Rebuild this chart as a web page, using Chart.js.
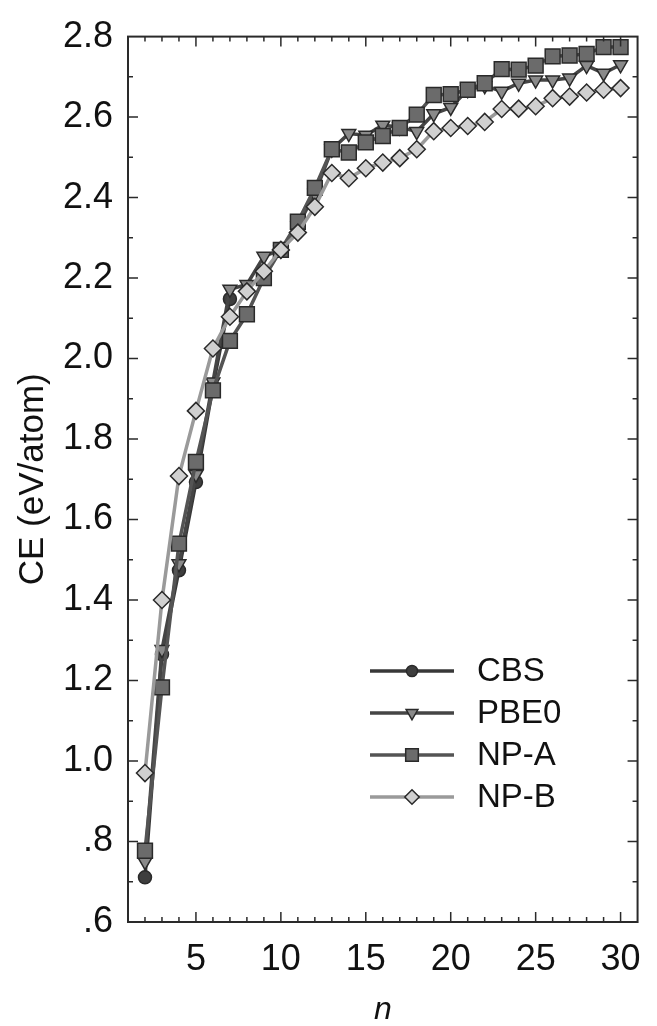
<!DOCTYPE html>
<html>
<head>
<meta charset="utf-8">
<title>CE vs n</title>
<script src="https://cdn.jsdelivr.net/npm/chart.js@4.4.1/dist/chart.umd.min.js"></script>
<style>
  html, body { margin: 0; padding: 0; background: #fff; }
  #wrap { width: 657px; height: 1026px; }
</style>
</head>
<body>
<div id="wrap"><canvas id="chart" width="657" height="1026"></canvas></div>
<script>
// cluster sizes
const cbsN = [2, 3, 4, 5, 6, 7];
const fullN = [2, 3, 4, 5, 6, 7, 8, 9, 10, 11, 12, 13, 14, 15, 16, 17, 18, 19, 20, 21, 22, 23, 24, 25, 26, 27, 28, 29, 30];

// cohesive energies, eV/atom
const cbsCE = [0.711, 1.265, 1.474, 1.693, 1.93, 2.148];
const pbe0CE = [0.75, 1.277, 1.49, 1.712, 1.942, 2.172, 2.184, 2.254, 2.27, 2.33, 2.41, 2.52, 2.559, 2.555, 2.58, 2.575, 2.564, 2.608, 2.624, 2.668, 2.678, 2.664, 2.684, 2.692, 2.692, 2.697, 2.728, 2.709, 2.73];
const npaCE = [0.777, 1.183, 1.54, 1.743, 1.921, 2.044, 2.11, 2.2, 2.27, 2.34, 2.424, 2.52, 2.512, 2.537, 2.553, 2.573, 2.606, 2.655, 2.657, 2.668, 2.684, 2.719, 2.718, 2.728, 2.751, 2.753, 2.757, 2.774, 2.774];
const npbCE = [0.97, 1.4, 1.708, 1.87, 2.025, 2.104, 2.167, 2.217, 2.27, 2.313, 2.377, 2.461, 2.448, 2.473, 2.487, 2.498, 2.52, 2.565, 2.573, 2.578, 2.588, 2.62, 2.621, 2.627, 2.647, 2.651, 2.661, 2.668, 2.672];

const xTicks = [5, 10, 15, 20, 25, 30];
const yTicks = [0.6, 0.8, 1.0, 1.2, 1.4, 1.6, 1.8, 2.0, 2.2, 2.4, 2.6, 2.8];

const font = "'Liberation Sans', Arial, sans-serif";
const ink = "#111";
const frameColor = "#2a2a2a";

function points(xs, ys) {
  return xs.map((n, i) => ({ x: n, y: ys[i] }));
}

function series(label, xs, ys, style) {
  return {
    label,
    data: points(xs, ys),
    borderColor: style.line,
    borderWidth: 3.5,
    pointStyle: style.shape,
    pointRotation: style.rotation || 0,
    pointRadius: style.radius,
    pointBackgroundColor: style.fill,
    pointBorderColor: "#2a2a2a",
    pointBorderWidth: 1.5,
    tension: 0,
    order: style.order,
  };
}

const datasets = [
  series("CBS", cbsN, cbsCE, { line: "#383838", fill: "#3e3e3e", shape: "circle", radius: 6.5, order: 4 }),
  series("PBE0", fullN, pbe0CE, { line: "#454545", fill: "#8a8a8a", shape: "triangle", rotation: 180, radius: 8, order: 3 }),
  series("NP-A", fullN, npaCE, { line: "#545454", fill: "#6b6b6b", shape: "rect", radius: 10.5, order: 2 }),
  series("NP-B", fullN, npbCE, { line: "#9a9a9a", fill: "#d0d0d0", shape: "rectRot", radius: 8.5, order: 1 }),
];

// inward ticks on all four sides plus the closed frame
const framePlugin = {
  id: "frame",
  afterDatasetsDraw(chart) {
    const { ctx, chartArea: a, scales } = chart;
    const x = scales.x;
    const y = scales.y;
    ctx.save();
    ctx.strokeStyle = frameColor;
    ctx.lineWidth = 1.5;
    ctx.beginPath();
    for (let n = 2; n <= 30; n++) {
      const px = x.getPixelForValue(n);
      const len = n % 5 === 0 ? 10 : 5;
      ctx.moveTo(px, a.bottom);
      ctx.lineTo(px, a.bottom - len);
      ctx.moveTo(px, a.top);
      ctx.lineTo(px, a.top + len);
    }
    for (let k = 7; k <= 27; k++) {
      const py = y.getPixelForValue(k / 10);
      const len = k % 2 === 0 ? 10 : 5;
      ctx.moveTo(a.left, py);
      ctx.lineTo(a.left + len, py);
      ctx.moveTo(a.right, py);
      ctx.lineTo(a.right - len, py);
    }
    ctx.stroke();
    ctx.lineWidth = 2;
    ctx.strokeRect(a.left, a.top, a.right - a.left, a.bottom - a.top);
    ctx.restore();
  },
};

// legend in the lower right of the plot, line + marker + name
const legendPlugin = {
  id: "innerLegend",
  afterDatasetsDraw(chart, args, opts) {
    const { ctx } = chart;
    const drawPoint = Chart.helpers && Chart.helpers.drawPoint;
    ctx.save();
    chart.data.datasets.forEach((ds, i) => {
      const rowY = opts.top + i * opts.rowGap;
      ctx.strokeStyle = ds.borderColor;
      ctx.lineWidth = 3.5;
      ctx.beginPath();
      ctx.moveTo(opts.lineStart, rowY);
      ctx.lineTo(opts.lineEnd, rowY);
      ctx.stroke();
      const mx = (opts.lineStart + opts.lineEnd) / 2;
      ctx.fillStyle = ds.pointBackgroundColor;
      ctx.strokeStyle = ds.pointBorderColor;
      ctx.lineWidth = ds.pointBorderWidth;
      if (drawPoint) {
        drawPoint(ctx, {
          pointStyle: ds.pointStyle,
          rotation: ds.pointRotation,
          radius: ds.pointRadius * 0.85,
          borderWidth: ds.pointBorderWidth,
        }, mx, rowY);
      }
      ctx.fillStyle = ink;
      ctx.font = `33px ${font}`;
      ctx.textBaseline = "middle";
      ctx.textAlign = "left";
      ctx.fillText(ds.label, opts.textX, rowY + 1);
    });
    ctx.restore();
  },
};

new Chart(document.getElementById("chart"), {
  type: "line",
  data: { datasets },
  options: {
    responsive: false,
    animation: false,
    devicePixelRatio: 1,
    layout: { padding: { top: 27, right: 4, left: 0, bottom: 0 } },
    plugins: {
      legend: { display: false },
      tooltip: { enabled: false },
      innerLegend: { top: 671, rowGap: 42, lineStart: 370, lineEnd: 454, textX: 477 },
    },
    scales: {
      x: {
        type: "linear",
        min: 1,
        max: 31,
        afterBuildTicks: (scale) => {
          scale.ticks = xTicks.map((v) => ({ value: v }));
        },
        afterFit: (scale) => {
          scale.height = 104;
        },
        grid: { display: false, drawTicks: false },
        border: { display: false },
        ticks: { color: ink, padding: 16, maxRotation: 0, font: { family: font, size: 36 } },
        title: {
          display: true,
          text: "n",
          color: ink,
          padding: { top: 0, bottom: 0 },
          font: { family: font, size: 32, style: "italic", lineHeight: 1 },
        },
      },
      y: {
        min: 0.6,
        max: 2.8,
        afterBuildTicks: (scale) => {
          scale.ticks = yTicks.map((v) => ({ value: v }));
        },
        afterFit: (scale) => {
          scale.width = 128;
        },
        grid: { display: false, drawTicks: false },
        border: { display: false },
        ticks: {
          color: ink,
          padding: 15,
          font: { family: font, size: 36 },
          callback: (v) => (v < 1 ? v.toFixed(1).slice(1) : v.toFixed(1)),
        },
        title: {
          display: true,
          text: "CE (eV/atom)",
          color: ink,
          padding: { top: 12, bottom: 0 },
          font: { family: font, size: 35 },
        },
      },
    },
  },
  plugins: [framePlugin, legendPlugin],
});
</script>
</body>
</html>
